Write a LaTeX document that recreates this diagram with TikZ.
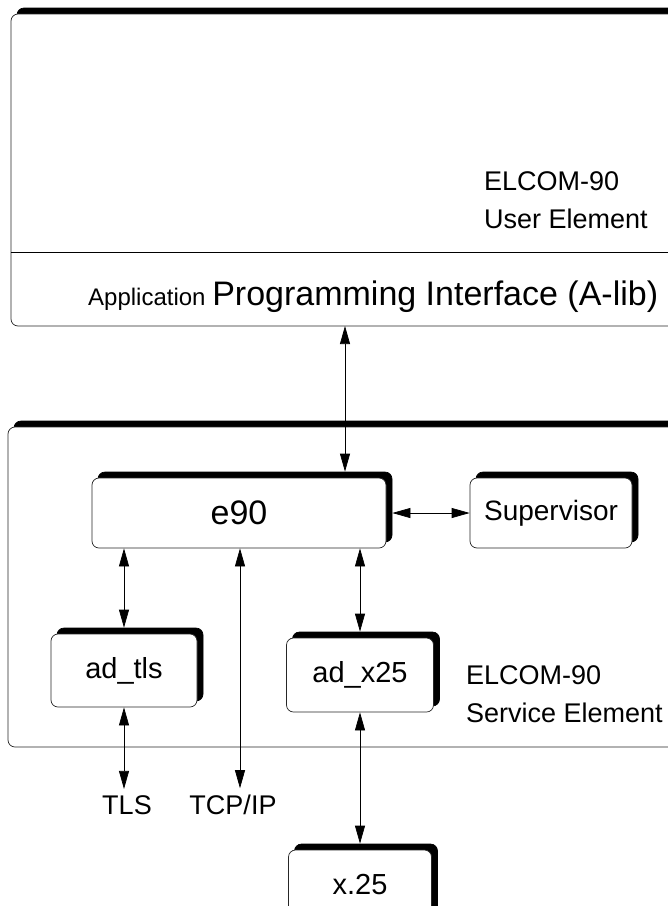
\documentclass[tikz,border=0pt]{standalone}
\usepackage{fontspec}
\setmainfont{Liberation Sans}
\usetikzlibrary{arrows.meta,shadows}
\tikzset{
  unit/.style={draw=black!85, line width=0.7pt, fill=white, rounded corners=7pt, inner sep=0pt,
               copy shadow={shadow xshift=6pt, shadow yshift=6pt, fill=black, draw=black, opacity=1}},
  link/.style={{Triangle[length=18pt,width=10pt]}-{Triangle[length=18pt,width=10pt]}, line width=0.7pt},
  tag/.style={font=\fontsize{27}{38}\selectfont, align=left, inner sep=0pt}
}

\begin{document}
\begin{tikzpicture}[x=1pt, y=-1pt]
        \useasboundingbox (0,0) rectangle (668,906);
        \clip             (0,0) rectangle (668,906);
            % the two elements
            \node[unit, minimum width=709pt, minimum height=312pt] (user)    at (365.5,170.0) {};
            \node[unit, minimum width=712pt, minimum height=320pt] (service) at (364.0,587.0) {};
            \draw[line width=0.7pt] (user.west |- 0,252) -- (user.east |- 0,252);
            \node[tag, anchor=base west] (usertag)    at (484,228) {ELCOM-90\\User Element};
            \node[tag, anchor=base west] (servicetag) at (466,722) {ELCOM-90\\Service Element};
            \node[anchor=base west, inner sep=0pt] (api) at (88,305)
                {\fontsize{24}{28}\selectfont Application \fontsize{34}{38}\selectfont Programming Interface (A-lib)};
            % the boxes
            \node[unit, minimum width=294pt, minimum height=70pt, font=\fontsize{34}{38}\selectfont] (e90)   at (239.0,513.0) {e90};
            \node[unit, minimum width=162pt, minimum height=70pt, font=\fontsize{28}{32}\selectfont] (super) at (551.0,513.0) {Supervisor};
            \node[unit, minimum width=146pt, minimum height=73pt, font=\fontsize{29}{33}\selectfont] (adtls) at (124.0,670.5) {ad\_tls};
            \node[unit, minimum width=147pt, minimum height=74pt, font=\fontsize{29}{33}\selectfont] (adx)   at (360.0,675.0) {ad\_x25};
            \node[unit, minimum width=143pt, minimum height=70pt, font=\fontsize{29}{33}\selectfont] (xnet)  at (360.0,885.0) {x.25};
            % outside ends
            \node[tag, anchor=base] (tls) at (127,814) {TLS};
            \node[tag, anchor=base] (tcp) at (233,814) {TCP/IP};
            \coordinate (port) at (345,326);
            % connectors
            \draw[link] (port) -- ([yshift=6pt]port |- e90.north);
            \draw[link] ([xshift=6pt]e90.east) -- (super.west);
            \draw[link] (e90.south -| adtls) -- ([yshift=6pt]adtls.north);
            \draw[link] (adtls.south) -- ([yshift=6pt]adtls.south |- tls.north);
            \draw[link] (e90.south -| 240,0) -- ([yshift=6pt]tcp.north -| 240,0);
            \draw[link] (e90.south -| adx) -- ([yshift=6pt]adx.north);
            \draw[link] (adx.south) -- ([yshift=6pt]xnet.north);
\end{tikzpicture}
\end{document}
